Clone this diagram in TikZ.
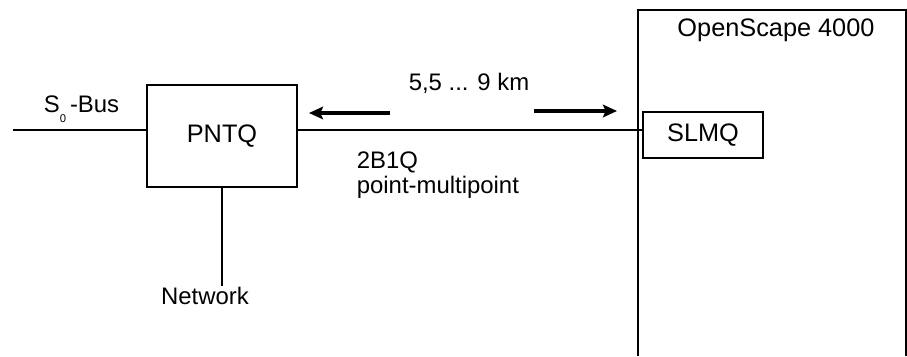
\documentclass[tikz,border=0pt]{standalone}
\usepackage{fontspec}
\setmainfont{Liberation Sans}
\usetikzlibrary{calc, positioning, arrows.meta}

\begin{document}
\begin{tikzpicture}[
  x=0.025cm, y=-0.025cm,
  line width=1.2pt,
  box/.style={draw, rectangle, inner sep=0pt, font=\fontsize{18}{21}\selectfont},
  lbl/.style={inner sep=0pt, font=\fontsize{17}{18}\selectfont},
  dir/.style={line width=2.4pt, -{Stealth[length=10pt, width=9pt, inset=2pt]}}
]
  \useasboundingbox (0,0) rectangle (907,356);
  % System frame, open at the bottom
  \draw (638,356) |- (906,10) -- (906,356);
  \node[lbl, font=\fontsize{18}{21}\selectfont] (osname) at (776,30) {OpenScape 4000};
  % Boxes
  \node[box, minimum width=3.75cm, minimum height=2.55cm] (pntq) at (222,136) {PNTQ};
  \node[box, minimum width=3cm, minimum height=1.15cm] (slmq) at (703,135) {SLMQ};
  % Bus and line
  \coordinate (busend) at (13,130);
  \draw (busend) -- (busend -| pntq.west);
  \draw (busend -| pntq.east) -- (busend -| slmq.west);
  \node[lbl, anchor=base west] (sbus) at (43,112)
    {S\raisebox{-7.5pt}{\fontsize{8}{8}\selectfont 0}\,-Bus};
  % Network
  \node[lbl] (net) at (205,296) {Network};
  \draw (pntq.south) -- (pntq.south |- net.north);
  % Distance arrows
  \coordinate (lt) at (390,113);
  \coordinate (lh) at (309,113);
  \coordinate (rt) at (534,111);
  \coordinate (rh) at (617,111);
  \draw[dir] (lt) -- (lh);
  \draw[dir] (rt) -- (rh);
  \node[lbl] (dist) at (469,83) {5,5 ... 9 km};
  \node[lbl, anchor=north west, align=left] (mode) at (356,151) {2B1Q\\point-multipoint};
\end{tikzpicture}
\end{document}
